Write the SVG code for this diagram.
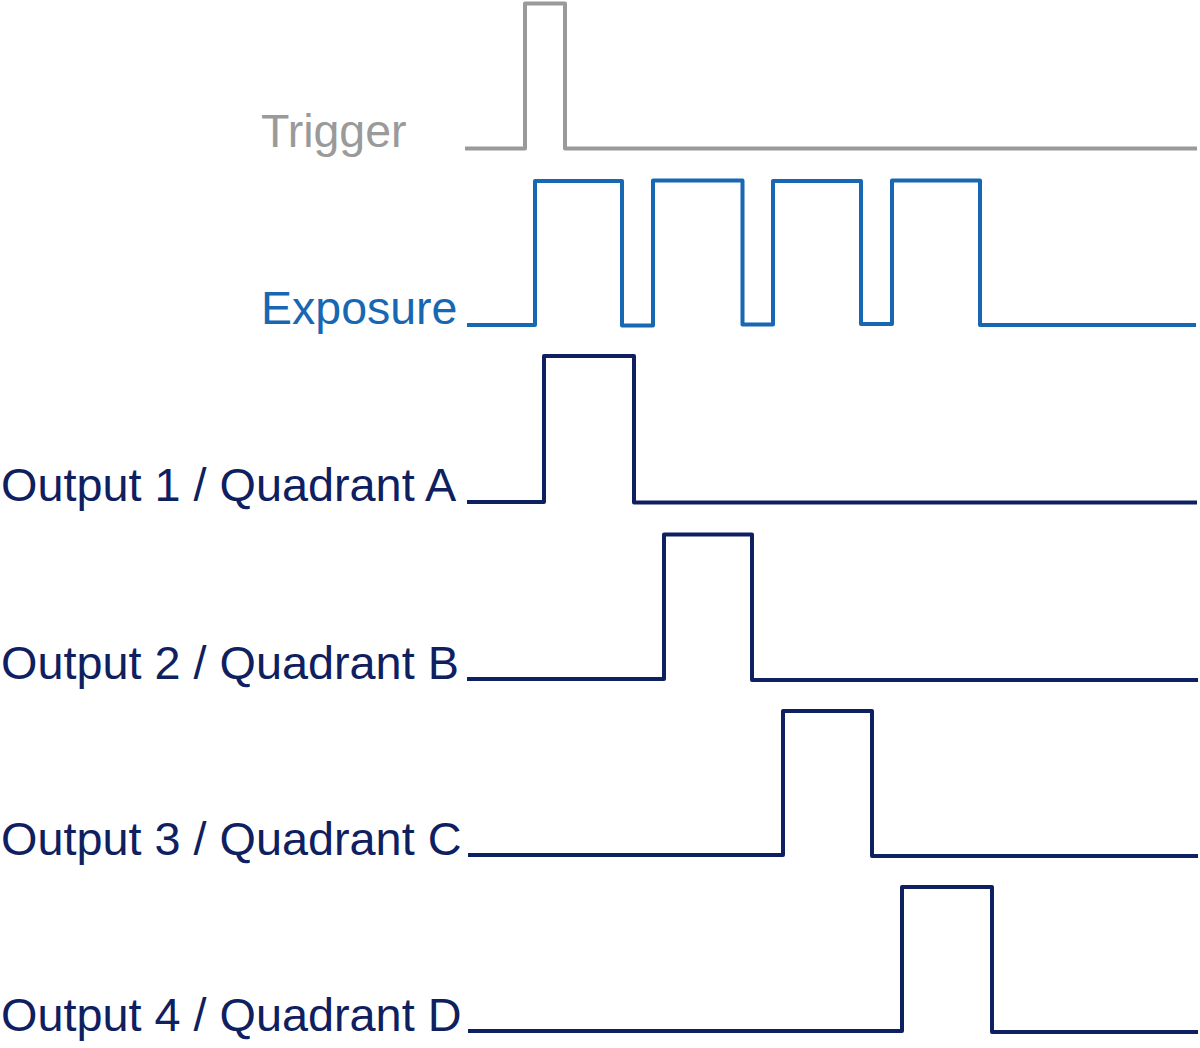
<svg xmlns="http://www.w3.org/2000/svg" width="1200" height="1048" viewBox="0 0 1200 1048">
<style>
.sig{fill:none;stroke-width:4;stroke-linejoin:round}
.lbl{font-family:"Liberation Sans",Arial,sans-serif}
.gray{stroke:#9a9a9a}
.blue{stroke:#1767b3}
.navy{stroke:#0f2060}
</style>
<rect width="1200" height="1048" fill="#ffffff"/>
<g id="labels" class="lbl">
<g id="label-trigger"><text x="261" y="147" font-size="46.5" fill="#9a9a9a">Trigger</text></g>
<g id="label-exposure"><text x="261" y="324" font-size="46.5" fill="#1767b3">Exposure</text></g>
<g id="label-out1"><text x="1" y="501" font-size="46.8" fill="#0f2060">Output 1 / Quadrant A</text></g>
<g id="label-out2"><text x="1" y="679" font-size="46.8" fill="#0f2060">Output 2 / Quadrant B</text></g>
<g id="label-out3"><text x="1" y="855" font-size="46.8" fill="#0f2060">Output 3 / Quadrant C</text></g>
<g id="label-out4"><text x="1" y="1031" font-size="46.8" fill="#0f2060">Output 4 / Quadrant D</text></g>
</g>
<g id="signals">
<path id="sig-trigger" class="sig gray" d="M465 148.5H525V3.5H565V148.5H1197"/>
<path id="sig-exposure" class="sig blue" d="M467 325H535V181H622V325.5H653V180.5H742.5V324.5H773V181H861V324H892V180.5H980V325H1196"/>
<path id="sig-out1" class="sig navy" d="M467 502H544V356H634V502.5H1197"/>
<path id="sig-out2" class="sig navy" d="M467 679H664V534.5H752V680H1198"/>
<path id="sig-out3" class="sig navy" d="M468 855H783V711H872V856H1198"/>
<path id="sig-out4" class="sig navy" d="M468 1031H902V887H992V1032H1198"/>
</g>
</svg>
